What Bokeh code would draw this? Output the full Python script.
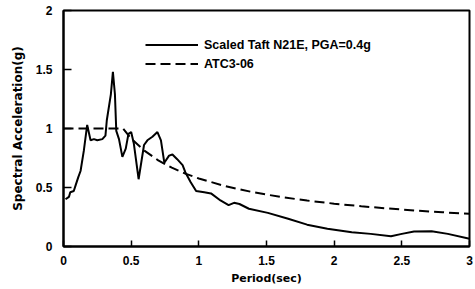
from bokeh.plotting import figure
from bokeh.models import Range1d, FixedTicker, Legend, LegendItem
from bokeh.embed import file_html
from bokeh.resources import INLINE

# Scaled Taft N21E record, PGA = 0.4 g
taft_T = [0.015, 0.04, 0.05, 0.076, 0.09, 0.11, 0.126, 0.15, 0.175, 0.2, 0.225, 0.25,
          0.287, 0.31, 0.32, 0.35, 0.365, 0.38, 0.39, 0.41, 0.435, 0.46, 0.48, 0.5,
          0.52, 0.555, 0.595, 0.62, 0.657, 0.694, 0.72, 0.745, 0.78, 0.805, 0.84,
          0.88, 0.90, 0.94, 0.98, 1.04, 1.09, 1.16, 1.22, 1.26, 1.30, 1.37, 1.51,
          1.66, 1.80, 1.95, 2.13, 2.27, 2.42, 2.50, 2.59, 2.72, 2.84, 3.0]
taft_Sa = [0.40, 0.42, 0.46, 0.47, 0.52, 0.59, 0.64, 0.81, 1.03, 0.90, 0.91, 0.90,
           0.91, 0.94, 1.07, 1.29, 1.48, 1.29, 0.98, 0.91, 0.76, 0.83, 0.955, 0.97,
           0.87, 0.57, 0.86, 0.90, 0.93, 0.97, 0.90, 0.71, 0.77, 0.78, 0.74,
           0.69, 0.63, 0.545, 0.47, 0.46, 0.45, 0.39, 0.35, 0.37, 0.36, 0.32, 0.285,
           0.235, 0.185, 0.15, 0.12, 0.107, 0.087, 0.107, 0.127, 0.13, 0.107, 0.065]

# ATC3-06 design spectrum
atc_T = [0.0, 0.44, 0.5, 0.6, 0.7, 0.8, 0.9, 1.0, 1.2, 1.4, 1.6, 1.8, 2.0,
         2.2, 2.4, 2.6, 2.8, 3.0]
atc_Sa = [1.0, 1.0, 0.914, 0.81, 0.73, 0.668, 0.618, 0.576, 0.51, 0.46, 0.421,
          0.389, 0.363, 0.341, 0.322, 0.305, 0.29, 0.277]

x_ticks = [0, 0.5, 1, 1.5, 2, 2.5, 3]
x_tick_labels = ["0", "0.5", "1", "1.5", "2", "2.5", "3"]
y_ticks = [0, 0.5, 1, 1.5, 2]
y_tick_labels = ["0", "0.5", "1", "1.5", "2"]

series_names = ["Scaled Taft N21E, PGA=0.4g", "ATC3-06"]

TICK_FONT = "Liberation Sans"
LABEL_FONT = "DejaVu Sans"

p = figure(output_backend="svg", toolbar_location=None,
           frame_width=406, frame_height=236,
           min_border_left=63, min_border_right=6, min_border_top=10, min_border_bottom=42,
           x_range=Range1d(0, 3), y_range=Range1d(0, 2),
           background_fill_color="white", border_fill_color="white")

p.grid.visible = False
p.outline_line_color = "black"
p.outline_line_width = 2

for ax in (p.xaxis, p.yaxis):
    ax.axis_line_width = 2
    ax.axis_line_color = "black"
    ax.major_tick_line_width = 1.5
    ax.major_tick_line_color = "black"
    ax.major_tick_out = 0
    ax.minor_tick_in = 0
    ax.minor_tick_out = 0
    ax.major_label_text_font = TICK_FONT
    ax.major_label_text_font_style = "bold"
    ax.major_label_text_font_size = "12px"
    ax.major_label_text_color = "black"
    ax.axis_label_text_font = LABEL_FONT
    ax.axis_label_text_font_style = "bold"
    ax.axis_label_text_color = "black"

p.xaxis.ticker = FixedTicker(ticks=x_ticks)
p.yaxis.ticker = FixedTicker(ticks=y_ticks)
p.xaxis.major_label_overrides = {t: l for t, l in zip(x_ticks, x_tick_labels)}
p.yaxis.major_label_overrides = {t: l for t, l in zip(y_ticks, y_tick_labels)}
p.xaxis.major_tick_in = 6
p.yaxis.major_tick_in = 8
p.xaxis.major_label_standoff = 9
p.yaxis.major_label_standoff = 11

p.xaxis.axis_label = "Period(sec)"
p.xaxis.axis_label_text_font_size = "11px"
p.xaxis.axis_label_standoff = 4
p.yaxis.axis_label = "Spectral Acceleration(g)"
p.yaxis.axis_label_text_font_size = "12px"
p.yaxis.axis_label_standoff = 8

r1 = p.line(taft_T, taft_Sa, line_color="black", line_width=2)
r2 = p.line(atc_T, atc_Sa, line_color="black", line_width=2, line_dash="10 5")

legend = Legend(items=[LegendItem(label=series_names[0], renderers=[r1]),
                       LegendItem(label=series_names[1], renderers=[r2])],
                location=(82, 173), orientation="vertical",
                padding=0, margin=0, spacing=0,
                glyph_width=53, glyph_height=19, label_height=19,
                label_standoff=6,
                label_text_font=TICK_FONT, label_text_font_style="bold",
                label_text_font_size="12.5px", label_text_color="black",
                border_line_color=None, background_fill_alpha=0)
p.add_layout(legend, "center")

open("out.html", "w").write(file_html(p, INLINE))
